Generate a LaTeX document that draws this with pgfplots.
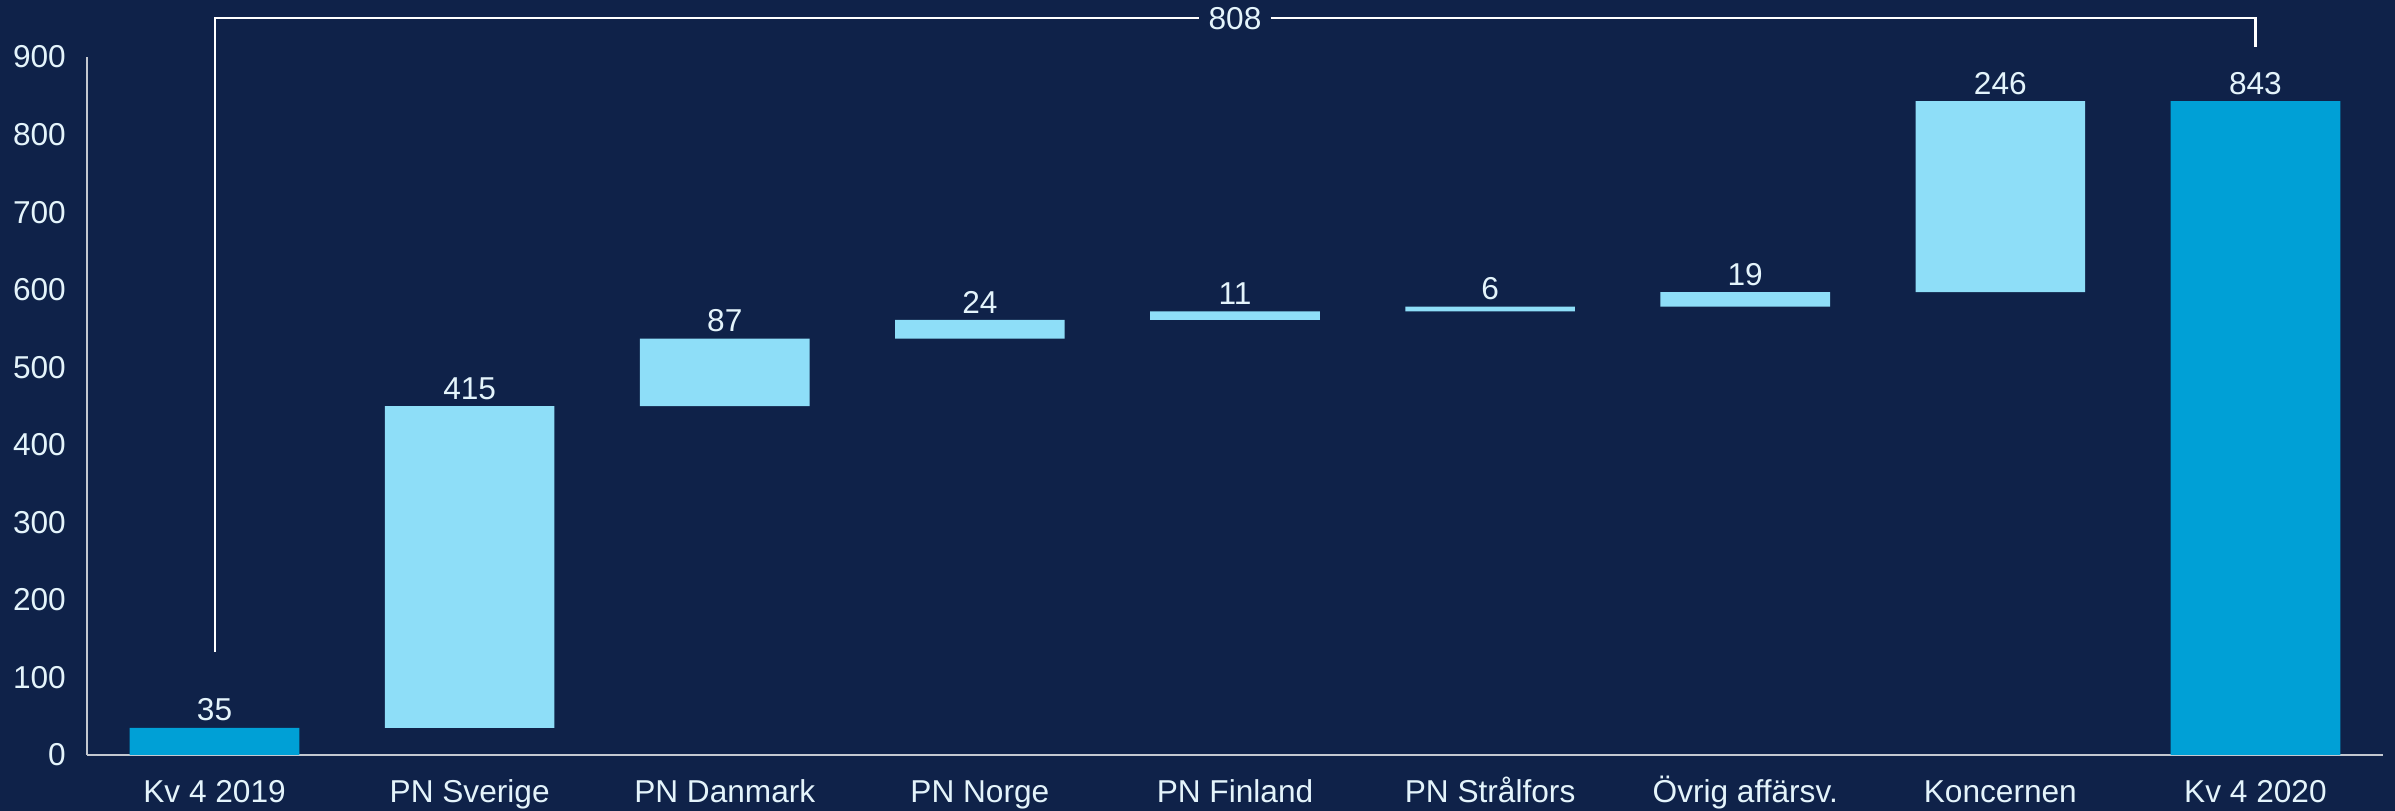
\documentclass[border=0pt]{standalone}
\usepackage{fontspec}
\setmainfont{Liberation Sans}
\usepackage{pgfplots}
\usepackage{pgfplotstable}
\pgfplotsset{compat=1.18}

\definecolor{bg}{HTML}{0F2249}
\definecolor{dark}{HTML}{00A0D6}
\definecolor{light}{HTML}{8EDEF8}
\definecolor{txt}{HTML}{E4F4FB}
\definecolor{axl}{HTML}{C3C8D0}

% waterfall: invisible base, change, total; top and lab for the value labels
\pgfplotstableread{
x base delta tot top lab
0 0   0   35  35  35
1 35  415 0   450 415
2 450 87  0   537 87
3 537 24  0   561 24
4 561 11  0   572 11
5 572 6   0   578 6
6 578 19  0   597 19
7 597 246 0   843 246
8 0   0   843 843 843
}\wf

\pgfplotsset{frame/.style={
    at={(0.87cm,0.56cm)}, anchor=south west,
    scale only axis, width=22.96cm, height=6.98cm,
    xmin=-0.5, xmax=8.5, ymin=0, ymax=900}}

\begin{document}
\begin{tikzpicture}
\fill[bg] (0,0) rectangle (23.95,8.11);
\path[use as bounding box] (0,0) rectangle (23.95,8.11);
\begin{axis}[
    frame,
    ybar stacked, bar width=0.665,
    xtick={0,...,8},
    xticklabels={Kv 4 2019, PN Sverige, PN Danmark, PN Norge, PN Finland,
                 PN Strålfors, Övrig affärsv., Koncernen, Kv 4 2020},
    ytick={0,100,...,900},
    axis x line*=bottom, axis y line*=left,
    axis line style={axl, line width=0.8pt, -},
    major tick length=0pt,
    tick label style={font=\fontsize{9}{11}\selectfont, text=txt},
    xticklabel style={text height=10pt},
    yticklabel style={xshift=-2.5pt},
    /pgf/number format/assume math mode=true,
    clip=false,
]
\addplot[draw=none, fill=none] table[x=x, y=base] {\wf};
\addplot[draw=none, fill=light] table[x=x, y=delta] {\wf};
\addplot[draw=none, fill=dark] table[x=x, y=tot] {\wf};

% bracket for the total change
\draw[white, line width=0.6pt] (axis cs:0,133) -- (axis cs:0,950)
    -- (axis cs:3.86,950);
\draw[white, line width=0.6pt] (axis cs:4.14,950) -- (axis cs:8,950)
    -- (axis cs:8,913);
\node[text=txt, font=\fontsize{9}{11}\selectfont] at (axis cs:4,950) {808};
\end{axis}

% value labels above each bar
\begin{axis}[frame, hide axis, clip=false]
\addplot[only marks, mark=none, point meta=explicit,
    nodes near coords,
    every node near coord/.append style={font=\fontsize{9}{11}\selectfont,
        text=txt, anchor=south, inner sep=1.7pt},
    /pgf/number format/assume math mode=true]
    table[x=x, y=top, meta=lab] {\wf};
\end{axis}
\end{tikzpicture}
\end{document}
